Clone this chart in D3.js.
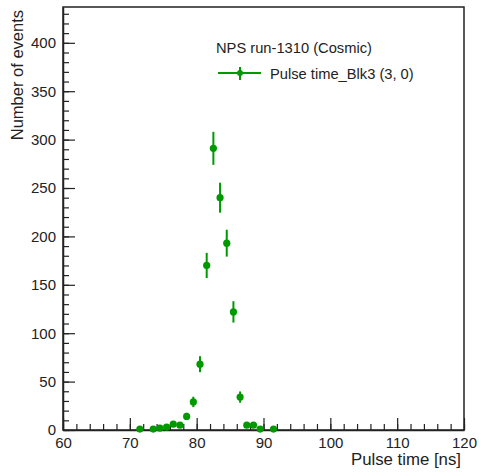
<!DOCTYPE html>
<html>
<head>
    <meta charset="utf-8">
    <title>Pulse time</title>
    <script src="https://d3js.org/d3.v7.min.js" charset="utf-8"></script>
    <style type="text/css">
        body { margin: 0; background: #fff; }
        svg { font-family: "Liberation Sans", Arial, sans-serif; }
        .axis path { stroke: #222; stroke-width: 1.5; }
        .axis line { stroke: #222; stroke-width: 1.2; }
        .axis text { font-size: 15px; fill: #222; }
    </style>
</head>
<body>
    <script type="text/javascript">
        // histogram bins (ns) and counts
        var binCenters = [71.5, 73.5, 74.5, 75.5, 76.5, 77.5, 78.5, 79.5, 80.5, 81.5,
                          82.5, 83.5, 84.5, 85.5, 86.5, 87.5, 88.5, 89.5, 91.5];
        var counts = [1, 1, 2, 3, 6, 5, 14, 29, 68, 170,
                      291, 240, 193, 122, 34, 5, 5, 1, 1];
        var xTicks = [60, 70, 80, 90, 100, 110, 120];
        var yTicks = [0, 50, 100, 150, 200, 250, 300, 350, 400];
        var legendTitle = "NPS run-1310 (Cosmic)";
        var seriesName = "Pulse time_Blk3 (3, 0)";

        var width = 481, height = 476;
        var frameL = 63, frameR = 464, frameT = 7, frameB = 430;
        var green = "#009900";

        var svg = d3.select("body")
                    .append("svg")
                    .attr("width", width)
                    .attr("height", height);

        var x = d3.scaleLinear().domain([60, 120]).range([frameL, frameR]);
        var y = d3.scaleLinear().domain([0, 437]).range([frameB, frameT]);

        // minor ticks
        svg.append("g")
            .attr("class", "axis")
            .attr("transform", "translate(0," + frameB + ")")
            .call(d3.axisBottom(x).tickValues(d3.range(60, 120.1, 2)).tickSize(-6).tickFormat(""))
            .select(".domain").remove();
        svg.append("g")
            .attr("class", "axis")
            .attr("transform", "translate(" + frameL + ",0)")
            .call(d3.axisLeft(y).tickValues(d3.range(0, 437, 10)).tickSize(-6).tickFormat(""))
            .select(".domain").remove();

        // major ticks with labels
        svg.append("g")
            .attr("class", "axis")
            .attr("transform", "translate(0," + frameB + ")")
            .call(d3.axisBottom(x).tickValues(xTicks).tickSize(-12).tickSizeOuter(0))
            .selectAll("text")
            .attr("font-size", "15.5px")
            .attr("dy", "0.71em")
            .attr("y", 7);
        svg.append("g")
            .attr("class", "axis")
            .attr("transform", "translate(" + frameL + ",0)")
            .call(d3.axisLeft(y).tickValues(yTicks).tickSize(-12).tickSizeOuter(0))
            .selectAll("text").attr("x", -7);

        // frame
        svg.append("rect")
            .attr("x", frameL)
            .attr("y", frameT)
            .attr("width", frameR - frameL)
            .attr("height", frameB - frameT)
            .attr("fill", "none")
            .attr("stroke", "#222")
            .attr("stroke-width", 1.5);

        // axis titles
        svg.append("text")
            .attr("x", 461)
            .attr("y", 465)
            .attr("text-anchor", "end")
            .attr("font-size", "16.8px")
            .attr("fill", "#222")
            .text("Pulse time [ns]");
        svg.append("text")
            .attr("transform", "translate(23,10) rotate(-90)")
            .attr("text-anchor", "end")
            .attr("font-size", "16.5px")
            .attr("fill", "#222")
            .text("Number of events");

        var data = binCenters.map(function (c, i) {
            return { x: c, n: counts[i] };
        });

        // error bars (poisson)
        svg.selectAll("line.err")
            .data(data)
            .enter()
            .append("line")
            .attr("class", "err")
            .attr("x1", function (d) { return x(d.x); })
            .attr("x2", function (d) { return x(d.x); })
            .attr("y1", function (d) { return y(d.n + Math.sqrt(d.n)); })
            .attr("y2", function (d) { return y(Math.max(0, d.n - Math.sqrt(d.n))); })
            .attr("stroke", green)
            .attr("stroke-width", 2);

        svg.selectAll("circle.pt")
            .data(data)
            .enter()
            .append("circle")
            .attr("class", "pt")
            .attr("cx", function (d) { return x(d.x); })
            .attr("cy", function (d) { return y(d.n); })
            .attr("r", 3.6)
            .attr("fill", green);

        // legend
        svg.append("text")
            .attr("x", 216)
            .attr("y", 53)
            .attr("font-size", "14.7px")
            .attr("fill", "#222")
            .text(legendTitle);
        svg.append("line")
            .attr("x1", 218).attr("x2", 261)
            .attr("y1", 73).attr("y2", 73)
            .attr("stroke", green).attr("stroke-width", 2);
        svg.append("line")
            .attr("x1", 240).attr("x2", 240)
            .attr("y1", 67).attr("y2", 80)
            .attr("stroke", green).attr("stroke-width", 2);
        svg.append("circle")
            .attr("cx", 240).attr("cy", 73).attr("r", 3)
            .attr("fill", green);
        svg.append("text")
            .attr("x", 270)
            .attr("y", 79)
            .attr("font-size", "14.7px")
            .attr("fill", "#222")
            .text(seriesName);
    </script>
</body>
</html>
